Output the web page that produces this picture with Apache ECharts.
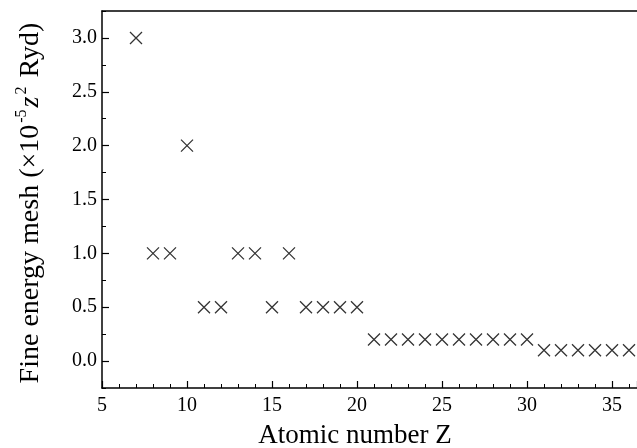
<!DOCTYPE html>
<html>
<head>
<meta charset="utf-8">
<script src="https://cdn.jsdelivr.net/npm/echarts@6/dist/echarts.min.js"></script>
<style>
  html, body { margin: 0; padding: 0; background: #fff; }
  #chart { width: 637px; height: 448px; }
</style>
</head>
<body>
<div id="chart"></div>
<script>
// Atomic number Z and the fine energy mesh used for each element (×10^-5 z^2 Ryd)
const atomicNumbers = [7, 8, 9, 10, 11, 12, 13, 14, 15, 16, 17, 18, 19, 20,
  21, 22, 23, 24, 25, 26, 27, 28, 29, 30, 31, 32, 33, 34, 35, 36];
const meshValues = [3.0, 1.0, 1.0, 2.0, 0.5, 0.5, 1.0, 1.0, 0.5, 1.0, 0.5, 0.5, 0.5, 0.5,
  0.2, 0.2, 0.2, 0.2, 0.2, 0.2, 0.2, 0.2, 0.2, 0.2, 0.1, 0.1, 0.1, 0.1, 0.1, 0.1];

const FONT = '"Liberation Serif", "Times New Roman", serif';
const points = atomicNumbers.map((z, i) => [z, meshValues[i]]);

const chart = echarts.init(document.getElementById('chart'), null, { renderer: 'canvas' });

const axisLine = { show: true, onZero: false, lineStyle: { color: '#000', width: 1.5 } };
const X_MIN = 5, X_MAX = 36.47;
const Y_MIN = -0.25, Y_MAX = 3.25;

chart.setOption({
  animation: false,
  backgroundColor: '#fff',
  grid: { left: 102, right: 0, top: 11, bottom: 60, containLabel: false, outerBoundsMode: 'none' },
  xAxis: [
    {
      type: 'value',
      min: X_MIN,
      max: X_MAX,
      interval: 5,
      axisLine: axisLine,
      axisTick: { show: true, inside: true, length: 7, lineStyle: { color: '#000', width: 1.2 } },
      minorTick: { show: true, splitNumber: 5, length: 4, lineStyle: { color: '#000', width: 1 } },
      splitLine: { show: false },
      axisLabel: { color: '#000', fontFamily: FONT, fontSize: 20, margin: 8, showMaxLabel: false },
      name: 'Atomic number Z',
      nameLocation: 'middle',
      nameGap: 34,
      nameTextStyle: { color: '#000', fontFamily: FONT, fontSize: 27, padding: [0, 29, 0, 0] }
    },
    {
      // plain frame line along the top edge
      type: 'value',
      position: 'top',
      min: X_MIN,
      max: X_MAX,
      axisLine: axisLine,
      axisTick: { show: false },
      axisLabel: { show: false },
      splitLine: { show: false }
    }
  ],
  yAxis: [
    {
      type: 'value',
      min: Y_MIN,
      max: Y_MAX,
      splitNumber: 7,
      axisLine: axisLine,
      axisTick: { show: true, inside: true, length: 7, lineStyle: { color: '#000', width: 1.2 } },
      splitLine: { show: false },
      axisLabel: {
        color: '#000', fontFamily: FONT, fontSize: 20, margin: 5,
        showMinLabel: false, showMaxLabel: false,
        formatter: v => v.toFixed(1)
      },
      name: '{a|Fine energy mesh (×10}{s|-5}{i|z}{s|2}{a| Ryd)}',
      nameLocation: 'middle',
      nameGap: 57,
      nameTextStyle: {
        color: '#000', fontFamily: FONT, fontSize: 28, padding: [0, 7, 0, 0],
        rich: {
          a: { fontFamily: FONT, fontSize: 28, color: '#000', lineHeight: 31, verticalAlign: 'bottom' },
          i: { fontFamily: FONT, fontSize: 28, fontStyle: 'italic', color: '#000', lineHeight: 31, verticalAlign: 'bottom' },
          s: { fontFamily: FONT, fontSize: 16, color: '#000', verticalAlign: 'top', lineHeight: 31, padding: [0, 2, 0, 2] }
        }
      }
    },
    {
      // short ticks every 0.25 along the left edge
      type: 'value',
      position: 'left',
      min: Y_MIN,
      max: Y_MAX,
      interval: 0.25,
      axisLine: { show: false, onZero: false },
      axisTick: { show: true, inside: true, length: 4, lineStyle: { color: '#000', width: 1 } },
      axisLabel: { show: false },
      splitLine: { show: false }
    }
  ],
  series: [{
    type: 'scatter',
    xAxisIndex: 0,
    yAxisIndex: 0,
    data: points,
    symbol: 'path://M0,0L10,10M10,0L0,10',
    symbolSize: 12,
    itemStyle: { color: 'none', borderColor: '#000', borderWidth: 1.3 },
    emphasis: { disabled: true }
  }]
});
</script>
</body>
</html>
